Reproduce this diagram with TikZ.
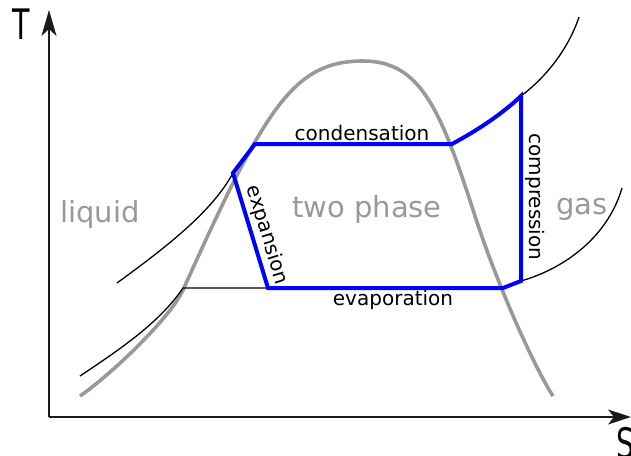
\documentclass[tikz,border=0pt]{standalone}
\usepackage{fontspec}
\setmainfont{DejaVu Sans}
\usetikzlibrary{arrows.meta}
\definecolor{domegray}{HTML}{999999}
\definecolor{cycleblue}{HTML}{0000FF}
\definecolor{axisblack}{HTML}{1A1A1A}
\begin{document}
\begin{tikzpicture}[x=1pt,y=-1pt,
  axisline/.style={draw=axisblack,line width=1.7pt},
  dome/.style={draw=domegray,line width=3.6pt},
  isobar/.style={draw=black,line width=1.3pt},
  cycleline/.style={draw=cycleblue,line width=4pt,line join=miter},
  lbl/.style={font=\fontsize{20}{24}\selectfont,inner sep=0pt,text=black},
  region/.style={font=\fontsize{29}{34}\selectfont,inner sep=0pt,text=domegray},
  axislbl/.style={font=\fontsize{42}{42}\selectfont,inner sep=0pt,text=black,xscale=0.68}]
\useasboundingbox (0,0) rectangle (631,455);

% axes
\coordinate (origin) at (49,417);
\coordinate (ytip) at (49,10);
\coordinate (xtip) at (631,417);
\draw[axisline,-{Stealth[length=26pt,width=15pt,inset=7pt]}] (origin) -- (ytip);
\draw[axisline,-{Stealth[length=23pt,width=15pt,inset=6pt]}] (origin) -- (xtip);
\node[axislbl] (tlabel) at (21,24) {T};
\node[axislbl] (slabel) at (626,443) {S};

% saturation dome
\draw[dome] (80,396) .. controls (112,374) and (170.7,317.3) .. (183,290)
  .. controls (265,108) and (293,61) .. (363,61)
  .. controls (420,61) and (440.3,108.3) .. (474,213)
  .. controls (498.5,289.2) and (536.5,371) .. (553,396);

% cycle points
\coordinate (A) at (233,173);
\coordinate (B) at (255,144);
\coordinate (C) at (452,144);
\coordinate (D) at (521,96);
\coordinate (E) at (521,281);
\coordinate (F) at (503,288);
\coordinate (G) at (268,288);
\coordinate (H) at (183,288);

% isobars
\draw[isobar] (117,283) .. controls (165,248) and (212,212) .. (A);
\draw[isobar] (D) .. controls (545,78) and (568,50) .. (579,17);
\draw[isobar] (80,376) .. controls (122,348) and (160,322) .. (H) -- (G);
\draw[isobar] (E) .. controls (566,268) and (608,236) .. (622,188);

% cycle
\draw[cycleline] (A) -- (B) -- (C) .. controls (478,130) and (502,114) .. (D) -- (E) -- (F) -- (G) -- cycle;

% labels
\node[lbl,anchor=base] (cond) at (362,140) {condensation};
\node[lbl,anchor=base] (evap) at (393,305) {evaporation};
\node[lbl,rotate=-90] (comp) at (535,197) {compression};
\node[lbl,rotate=-73] (expa) at (267,235) {expansion};
\node[region,anchor=base] (twoph) at (367,217) {two phase};
\node[region,anchor=base] (liq) at (100,222) {liquid};
\node[region,anchor=base] (gas) at (582,214) {gas};
\end{tikzpicture}
\end{document}
